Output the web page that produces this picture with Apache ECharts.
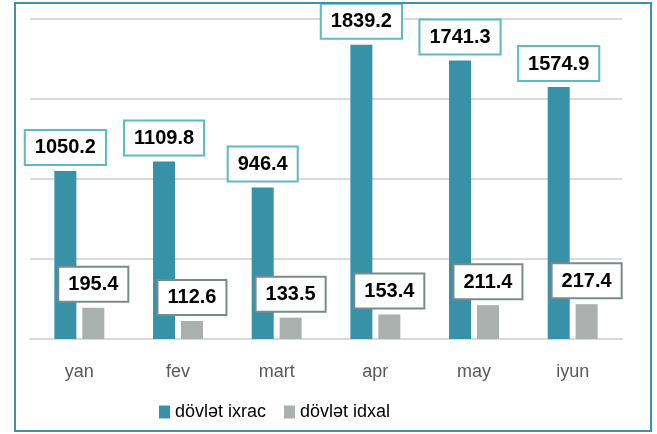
<!DOCTYPE html>
<html>
<head>
<meta charset="utf-8">
<script src="https://cdn.jsdelivr.net/npm/echarts@6/dist/echarts.min.js"></script>
<style>html,body{margin:0;padding:0;background:#fff;}#c{width:657px;height:434px;}</style>
</head>
<body>
<div id="c"></div>
<script>
const categories = ['yan', 'fev', 'mart', 'apr', 'may', 'iyun'];
const exportValues = [1050.2, 1109.8, 946.4, 1839.2, 1741.3, 1574.9];
const importValues = [195.4, 112.6, 133.5, 153.4, 211.4, 217.4];
const seriesNames = ['dövlət ixrac', 'dövlət idxal'];

const chart = echarts.init(document.getElementById('c'), null, {renderer: 'canvas'});
const font = 'Liberation Sans';
function lbl(border) {
  return {
    show: true, position: 'top', distance: 7,
    fontFamily: font, fontWeight: 'bold', fontSize: 20, color: '#000',
    backgroundColor: '#fff', borderColor: border, borderWidth: 2,
    padding: [7, 9, 6, 9],
    formatter: p => p.value.toFixed(1)
  };
}
chart.setOption({
  animation: false,
  grid: {left: 30, right: 35, top: 19, bottom: 95},
  graphic: [{
    type: 'rect', shape: {x: 15, y: 3, width: 636, height: 428},
    style: {fill: 'none', stroke: '#3a93a8', lineWidth: 2}, z: 100
  }],
  legend: {
    bottom: 8, left: 154, itemWidth: 11, itemHeight: 13, itemGap: 18,
    icon: 'rect',
    textStyle: {fontFamily: font, fontSize: 18, color: '#000'},
    data: seriesNames
  },
  xAxis: {
    type: 'category', data: categories,
    axisLine: {lineStyle: {color: '#d9d9d9', width: 2}},
    axisTick: {show: false},
    axisLabel: {fontFamily: font, fontSize: 18, color: '#595959', margin: 24}
  },
  yAxis: {
    type: 'value', min: 0, max: 2000, interval: 500,
    axisLabel: {show: false}, axisLine: {show: false}, axisTick: {show: false},
    splitLine: {lineStyle: {color: '#d9d9d9', width: 2}}
  },
  series: [
    {name: seriesNames[0], type: 'bar', data: exportValues, barWidth: 22, barGap: '27%',
     itemStyle: {color: '#3892a7'}, label: lbl('#5cb9c5')},
    {name: seriesNames[1], type: 'bar', data: importValues, barWidth: 22,
     itemStyle: {color: '#a9b0ad'}, label: lbl('#7a8a8a')}
  ]
});
</script>
</body>
</html>
